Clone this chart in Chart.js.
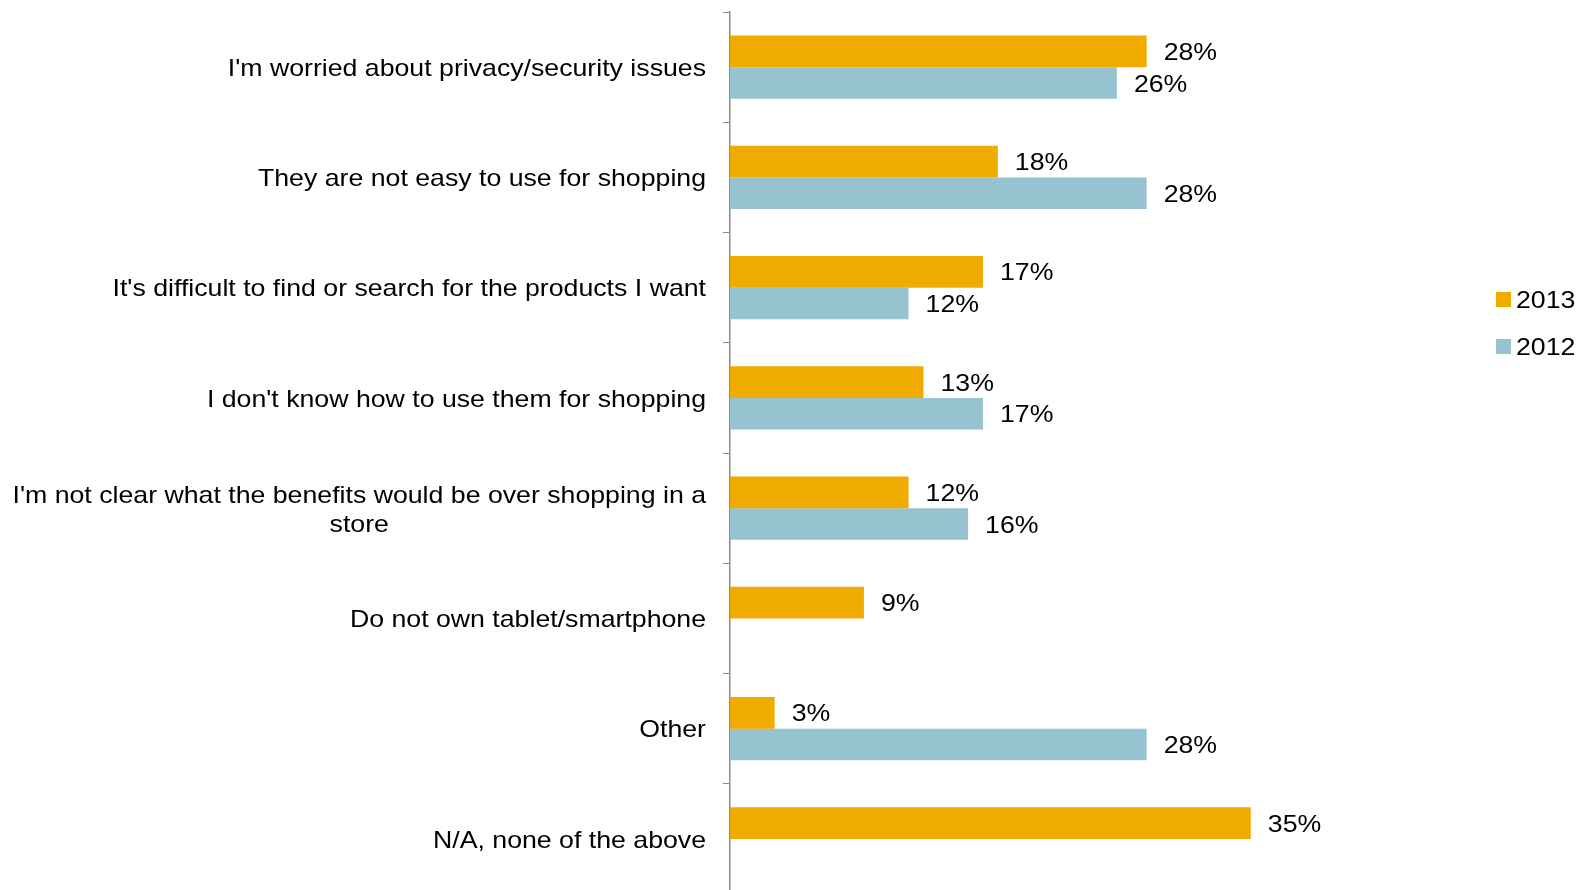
<!DOCTYPE html>
<html>
<head>
<meta charset="utf-8">
<title>Shopping on tablets and smartphones</title>
<script src="https://cdn.jsdelivr.net/npm/chart.js@4/dist/chart.umd.min.js"></script>
<style>
  html, body { margin: 0; padding: 0; background: #fff; overflow: hidden; }
  #wrap { position: relative; width: 1581px; height: 900px; }
</style>
</head>
<body>
<div id="wrap"><canvas id="reasonsChart" width="1581" height="900"></canvas></div>
<script>
// each label is a list of lines
const reasons = [
  ["I'm worried about privacy/security issues"],
  ["They are not easy to use for shopping"],
  ["It's difficult to find or search for the products I want"],
  ["I don't know how to use them for shopping"],
  ["I'm not clear what the benefits would be over shopping in a", "store"],
  ["Do not own tablet/smartphone"],
  ["Other"],
  ["N/A, none of the above"]
];
const values2013 = [28, 18, 17, 13, 12, 9, 3, 35];
const values2012 = [26, 28, 12, 17, 16, null, 28, null];
const seriesNames = ['2013', '2012'];
const seriesColors = ['#F0AB00', '#97C2CF'];

const FONT = '24px "Liberation Sans", Arial, sans-serif';
const STRETCH = 1.112; // text is a little wide

const ctx = document.getElementById('reasonsChart');

function drawText(c, text, x, y, align) {
  c.save();
  c.translate(x, y);
  c.scale(STRETCH, 1);
  c.textAlign = align;
  c.fillText(text, 0, 0);
  c.restore();
}

// category labels, value labels and the legend are painted here
const textPlugin = {
  id: 'textPlugin',
  afterDraw(chart) {
    const c = chart.ctx;
    const yScale = chart.scales.y;
    c.save();
    c.font = FONT;
    c.fillStyle = '#000';
    c.textBaseline = 'middle';

    // category labels, right edge just left of the axis
    const right = chart.chartArea.left - 24;
    reasons.forEach((lines, i) => {
      const cy = yScale.getPixelForTick(i) + 2;
      const lineH = 29.5;
      const top = cy - (lines.length - 1) * lineH / 2 + 0.5;
      if (lines.length === 1) {
        drawText(c, lines[0], right, cy, 'right');
      } else {
        const w = Math.max(...lines.map(l => c.measureText(l).width)) * STRETCH;
        lines.forEach((l, k) => drawText(c, l, right - w / 2, top + k * lineH, 'center'));
      }
    });

    // value labels at the end of each bar
    chart.data.datasets.forEach((ds, d) => {
      chart.getDatasetMeta(d).data.forEach((bar, i) => {
        if (ds.data[i] == null) return;
        drawText(c, ds.data[i] + '%', bar.x + 17, bar.y + 2, 'left');
      });
    });

    // legend
    const legendY = [300, 347];
    seriesNames.forEach((name, i) => {
      c.fillStyle = seriesColors[i];
      c.fillRect(1496, legendY[i] - 8, 15, 15);
      c.fillStyle = '#000';
      drawText(c, name, 1516, legendY[i] + 1, 'left');
    });
    c.restore();
  }
};

new Chart(ctx, {
  type: 'bar',
  data: {
    labels: reasons.map(l => l.join(' ')),
    datasets: [
      { label: seriesNames[0], data: values2013, backgroundColor: seriesColors[0] },
      { label: seriesNames[1], data: values2012, backgroundColor: seriesColors[1] }
    ]
  },
  options: {
    indexAxis: 'y',
    responsive: false,
    animation: false,
    layout: { padding: { top: 12, bottom: 6, right: 107, left: 0 } },
    datasets: {
      bar: { barPercentage: 1, categoryPercentage: 0.572 }
    },
    scales: {
      x: {
        display: false,
        min: 0,
        max: 50
      },
      y: {
        afterFit: scale => { scale.width = 730; },
        ticks: { display: false },
        grid: {
          drawOnChartArea: false,
          offset: true,
          tickLength: 7,
          color: '#8c8c8c',
          lineWidth: 1
        },
        border: { color: '#8c8c8c', width: 1.5 }
      }
    },
    plugins: {
      legend: { display: false },
      tooltip: { enabled: false }
    }
  },
  plugins: [textPlugin]
});
</script>
</body>
</html>
